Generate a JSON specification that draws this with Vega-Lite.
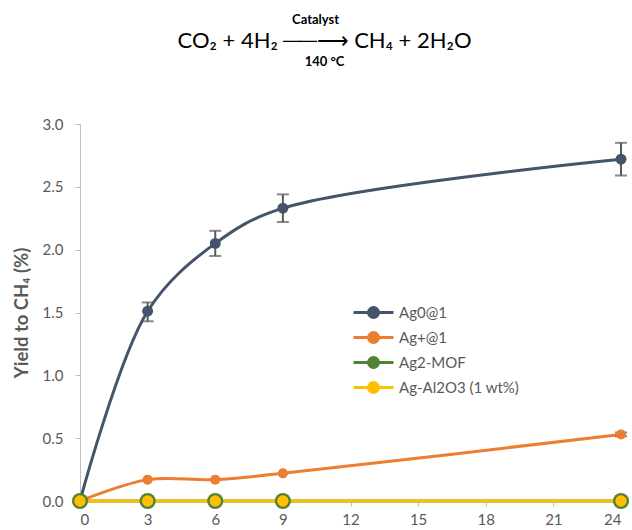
{
  "$schema": "https://vega.github.io/schema/vega-lite/v6.json",
  "padding": {"top": 14, "left": 12, "right": 4, "bottom": 0},
  "background": "white",
  "title": {"text": "Catalyst", "font": "Lato", "fontSize": 13, "fontWeight": "bold", "color": "black", "offset": 3, "anchor": "middle", "dx": -5},
  "config": {
    "font": "Lato",
    "view": {"stroke": null},
    "axis": {"labelFont": "Lato", "labelFontSize": 15, "labelColor": "#595959", "domainColor": "#BFBFBF", "tickColor": "#BFBFBF", "grid": false, "titleFont": "Lato", "titleColor": "#595959"},
    "legend": {"labelFont": "Lato", "labelFontSize": 15, "labelColor": "#595959"}
  },
  "data": {"values": [
    {"series": "Ag0@1", "t": 0, "y": 0},
    {"series": "Ag0@1", "t": 3, "y": 1.51, "lo": 1.43, "hi": 1.58},
    {"series": "Ag0@1", "t": 6, "y": 2.05, "lo": 1.95, "hi": 2.15},
    {"series": "Ag0@1", "t": 9, "y": 2.33, "lo": 2.22, "hi": 2.44},
    {"series": "Ag0@1", "t": 24, "y": 2.72, "lo": 2.59, "hi": 2.85},
    {"series": "Ag+@1", "t": 0, "y": 0},
    {"series": "Ag+@1", "t": 3, "y": 0.17},
    {"series": "Ag+@1", "t": 6, "y": 0.17},
    {"series": "Ag+@1", "t": 9, "y": 0.22},
    {"series": "Ag+@1", "t": 24, "y": 0.53, "lo": 0.515, "hi": 0.545},
    {"series": "Ag2-MOF", "t": 0, "y": 0},
    {"series": "Ag2-MOF", "t": 3, "y": 0},
    {"series": "Ag2-MOF", "t": 6, "y": 0},
    {"series": "Ag2-MOF", "t": 9, "y": 0},
    {"series": "Ag2-MOF", "t": 24, "y": 0},
    {"series": "Ag-Al2O3 (1 wt%)", "t": 0, "y": 0},
    {"series": "Ag-Al2O3 (1 wt%)", "t": 3, "y": 0},
    {"series": "Ag-Al2O3 (1 wt%)", "t": 6, "y": 0},
    {"series": "Ag-Al2O3 (1 wt%)", "t": 9, "y": 0},
    {"series": "Ag-Al2O3 (1 wt%)", "t": 24, "y": 0}
  ]},
  "vconcat": [
    {
      "width": 541,
      "height": 377,
      "title": {"text": "CO₂ + 4H₂ ──⟶ CH₄ + 2H₂O", "subtitle": "140 °C", "font": "Lato", "fontSize": 22, "fontWeight": "normal", "color": "black", "subtitleFont": "Lato", "subtitleFontSize": 13, "subtitleFontWeight": "bold", "subtitleColor": "black", "subtitlePadding": 3, "offset": 47, "frame": "bounds", "anchor": "middle", "dx": 4},
      "encoding": {
        "x": {"field": "t", "type": "quantitative", "scale": {"domain": [0, 24], "nice": false}, "axis": {"values": [0, 3, 6, 9, 12, 15, 18, 21, 24], "title": null, "tickSize": 5, "labelPadding": 6}},
        "y": {"field": "y", "type": "quantitative", "scale": {"domain": [0, 3], "nice": false}, "axis": {"values": [0, 0.5, 1, 1.5, 2, 2.5, 3], "format": ".1f", "title": "Yield to CH₄ (%)", "titleFontSize": 18.5, "titleFontWeight": "bold", "titlePadding": 11, "tickSize": 5, "labelPadding": 12}}
      },
      "layer": [
        {
          "mark": {"type": "line", "interpolate": "catmull-rom", "strokeWidth": 3, "clip": false},
          "encoding": {
            "color": {"field": "series", "type": "nominal",
              "scale": {"domain": ["Ag0@1", "Ag+@1", "Ag2-MOF", "Ag-Al2O3 (1 wt%)"], "range": ["#44546A", "#ED7D31", "#548235", "#FFC000"]},
              "legend": {"title": null, "orient": "none", "legendX": 282, "legendY": 177, "symbolType": "M-2,0H2M-0.5,0A0.5,0.5 0 1,1 0.5,0A0.5,0.5 0 1,1 -0.5,0Z", "symbolSize": 400, "symbolStrokeWidth": 3, "rowPadding": 2, "labelOffset": 14,
                "encode": {"symbols": {"update": {"size": {"value": 400}, "fill": {"scale": "color", "field": "value"}, "stroke": {"scale": "color", "field": "value"}, "opacity": {"value": 1}, "fillOpacity": {"value": 1}, "strokeWidth": {"value": 3}}}}}
            },
            "order": {"field": "t"}
          }
        },
        {
          "transform": [{"filter": "datum.lo != null"}],
          "mark": {"type": "rule", "color": "#595959", "strokeWidth": 2},
          "encoding": {"y": {"field": "lo", "type": "quantitative"}, "y2": {"field": "hi"}}
        },
        {
          "transform": [{"filter": "datum.lo != null"}],
          "mark": {"type": "tick", "orient": "horizontal", "color": "#595959", "size": 12, "thickness": 2},
          "encoding": {"y": {"field": "lo", "type": "quantitative"}}
        },
        {
          "transform": [{"filter": "datum.lo != null"}],
          "mark": {"type": "tick", "orient": "horizontal", "color": "#595959", "size": 12, "thickness": 2},
          "encoding": {"y": {"field": "hi", "type": "quantitative"}}
        },
        {
          "transform": [{"filter": "datum.series == 'Ag0@1'"}],
          "mark": {"type": "circle", "color": "#44546A", "size": 120, "opacity": 1, "clip": false}
        },
        {
          "transform": [{"filter": "datum.series == 'Ag+@1'"}],
          "mark": {"type": "circle", "color": "#ED7D31", "size": 100, "opacity": 1, "clip": false}
        },
        {
          "transform": [{"filter": "datum.series == 'Ag2-MOF'"}],
          "mark": {"type": "circle", "color": "#548235", "size": 260, "opacity": 1, "clip": false}
        },
        {
          "transform": [{"filter": "datum.series == 'Ag-Al2O3 (1 wt%)'"}],
          "mark": {"type": "circle", "color": "#FFC000", "size": 130, "opacity": 1, "clip": false}
        }
      ]
    }
  ]
}
